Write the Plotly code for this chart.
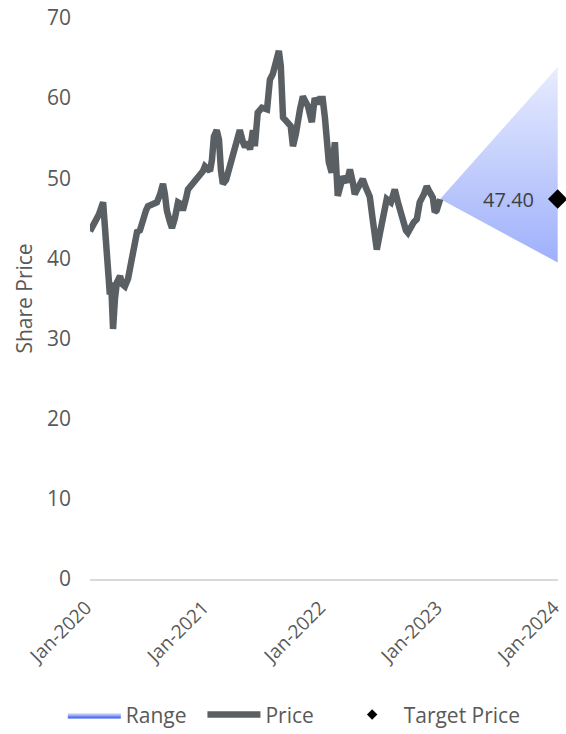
import plotly.graph_objects as go

# Share price history
price_dates = [
    "2020-01-01", "2020-01-10", "2020-01-20", "2020-01-29", "2020-02-11", "2020-02-17",
    "2020-02-23", "2020-02-29", "2020-03-03", "2020-03-07", "2020-03-13", "2020-03-19",
    "2020-03-25", "2020-04-04", "2020-04-10", "2020-04-19", "2020-04-29", "2020-05-11",
    "2020-05-17", "2020-05-27", "2020-06-05", "2020-06-14", "2020-06-24", "2020-06-30",
    "2020-07-13", "2020-07-28", "2020-08-07", "2020-08-16", "2020-08-22", "2020-08-28",
    "2020-09-07", "2020-09-13", "2020-09-22", "2020-10-02", "2020-10-11", "2020-10-17",
    "2020-10-27", "2020-11-02", "2020-11-14", "2020-11-30", "2020-12-09", "2020-12-19",
    "2020-12-25", "2021-01-03", "2021-01-10", "2021-01-16", "2021-01-22", "2021-01-31",
    "2021-02-07", "2021-02-13", "2021-02-19", "2021-03-01", "2021-03-10", "2021-03-22",
    "2021-04-01", "2021-04-13", "2021-04-23", "2021-04-29", "2021-05-08", "2021-05-15",
    "2021-05-24", "2021-05-30", "2021-06-08", "2021-06-21", "2021-07-07", "2021-07-16",
    "2021-07-25", "2021-08-01", "2021-08-13", "2021-08-19", "2021-08-22", "2021-08-26",
    "2021-09-04", "2021-09-10", "2021-09-19", "2021-09-26", "2021-10-05", "2021-10-18",
    "2021-10-27", "2021-11-05", "2021-11-12", "2021-11-18", "2021-11-24", "2021-12-03",
    "2021-12-13", "2021-12-19", "2021-12-28", "2022-01-04", "2022-01-10", "2022-01-16",
    "2022-01-25", "2022-02-04", "2022-02-13", "2022-02-19", "2022-03-01", "2022-03-13",
    "2022-03-23", "2022-04-01", "2022-04-07", "2022-04-17", "2022-05-02", "2022-05-12",
    "2022-05-24", "2022-06-02", "2022-06-09", "2022-06-15", "2022-06-24", "2022-07-01",
    "2022-07-10", "2022-07-16", "2022-07-29", "2022-08-10", "2022-08-20", "2022-08-26",
    "2022-09-04", "2022-09-14", "2022-09-20", "2022-09-29", "2022-10-08", "2022-10-18",
    "2022-10-27", "2022-11-09", "2022-11-18", "2022-11-27", "2022-12-07", "2022-12-13",
    "2022-12-19", "2022-12-30",
]
price_values = [
    43.4, 44.0, 45.0, 45.5, 47.0, 44.0,
    40.0, 38.5, 35.5, 37.0, 31.2, 35.0,
    37.0, 37.8, 36.8, 36.5, 37.5, 40.0,
    41.0, 43.3, 43.5, 45.0, 46.0, 46.5,
    46.8, 47.0, 48.0, 49.3, 48.0, 46.0,
    44.5, 43.8, 45.0, 47.0, 46.8, 46.0,
    47.5, 48.6, 49.2, 49.9, 50.4, 50.9,
    51.5, 51.2, 50.9, 52.3, 55.2, 56.0,
    54.8, 51.0, 49.3, 49.8, 51.0, 52.8,
    54.0, 56.0, 54.5, 53.9, 54.5, 53.6,
    56.0, 54.0, 58.2, 58.8, 58.6, 62.3,
    63.0, 64.0, 65.9, 64.0, 62.4, 57.6,
    57.2, 57.0, 56.5, 54.0, 55.5, 58.6,
    60.2, 59.5, 59.0, 58.0, 57.0, 60.0,
    59.3, 59.9, 59.9, 57.5, 54.5, 52.0,
    50.7, 54.5, 47.8, 49.0, 50.2, 49.5,
    51.1, 49.5, 48.0, 48.8, 49.9, 48.8,
    47.7, 44.9, 42.0, 41.1, 43.0, 44.5,
    45.5, 47.4, 47.0, 48.6, 47.0, 46.1,
    45.0, 43.5, 43.2, 44.0, 44.5, 44.9,
    47.0, 48.0, 49.0, 48.3, 47.6, 45.8,
    46.0, 47.4,
]

# Analyst target range one year out
target_date = "2024-01-01"
range_high = 63.9
range_low = 39.5
target_price = 47.40

tick_dates = ["2020-01-01", "2021-01-01", "2022-01-01", "2023-01-01", "2024-01-01"]
tick_labels = ["Jan-2020", "Jan-2021", "Jan-2022", "Jan-2023", "Jan-2024"]
y_ticks = [0, 10, 20, 30, 40, 50, 60, 70]

FONT = "Open Sans"
TEXT_GREY = "#595959"
NBSP = "\u00a0"

fig = go.Figure()

# Fan from the last close to the high/low targets, shaded blue (bottom) to white (top)
last_date = price_dates[-1]
last_price = price_values[-1]
fig.add_trace(go.Scatter(
    x=[last_date, target_date, target_date, last_date],
    y=[last_price, range_high, range_low, last_price],
    mode="lines",
    line=dict(width=0),
    fill="toself",
    fillgradient=dict(
        type="vertical",
        start=y_ticks[0],
        stop=y_ticks[-1],
        colorscale=[[0, "rgb(40,80,245)"], [1, "rgb(250,251,255)"]],
    ),
    name="Range" + NBSP * 2,
    hoverinfo="skip",
))

fig.add_trace(go.Scatter(
    x=price_dates,
    y=price_values,
    mode="lines",
    line=dict(color="#5a5f63", width=6.5),
    name="Price" + NBSP * 4,
))

fig.add_trace(go.Scatter(
    x=[target_date],
    y=[target_price],
    mode="markers",
    marker=dict(symbol="diamond", size=15, color="#000000"),
    cliponaxis=False,
    showlegend=False,
    name="Target Price",
))
# Legend entry for the target marker (smaller swatch)
fig.add_trace(go.Scatter(
    x=[None], y=[None],
    mode="markers",
    marker=dict(symbol="diamond", size=8, color="#000000"),
    name="Target Price",
))

fig.add_annotation(
    x=target_date, y=target_price,
    text=f"{target_price:.2f}",
    showarrow=False,
    xanchor="right", yanchor="middle",
    xshift=-22,
    font=dict(family=FONT, size=20, color="#404040"),
)

fig.update_layout(
    width=566, height=734,
    margin=dict(l=90, r=8, t=18, b=155),
    paper_bgcolor="white",
    plot_bgcolor="white",
    font=dict(family=FONT, size=20, color=TEXT_GREY),
    showlegend=True,
    legend=dict(
        orientation="h",
        xref="container", yref="container",
        x=0.52, xanchor="center",
        y=0.026, yanchor="middle",
        itemwidth=53,
        font=dict(family=FONT, size=21, color=TEXT_GREY),
    ),
    xaxis=dict(
        type="date",
        range=["2020-01-01", "2024-01-02"],
        tickvals=tick_dates,
        ticktext=tick_labels,
        tickangle=-45,
        showgrid=False,
        zeroline=False,
        showline=True,
        linecolor="#d9d9d9",
        linewidth=2,
        ticks="",
        ticklabelstandoff=8,
        ticklabelshift=-4,
        ticklabeloverflow="allow",
        automargin=False,
        tickfont=dict(family=FONT, size=19, color=TEXT_GREY),
    ),
    yaxis=dict(
        range=[0, 70],
        tickvals=y_ticks,
        showgrid=False,
        zeroline=False,
        showline=False,
        ticks="",
        ticklabelstandoff=18,
        automargin=False,
        tickfont=dict(family=FONT, size=21, color=TEXT_GREY),
        title=dict(text="Share Price", font=dict(family=FONT, size=21, color=TEXT_GREY), standoff=8),
    ),
)

fig.write_html("out.html")
